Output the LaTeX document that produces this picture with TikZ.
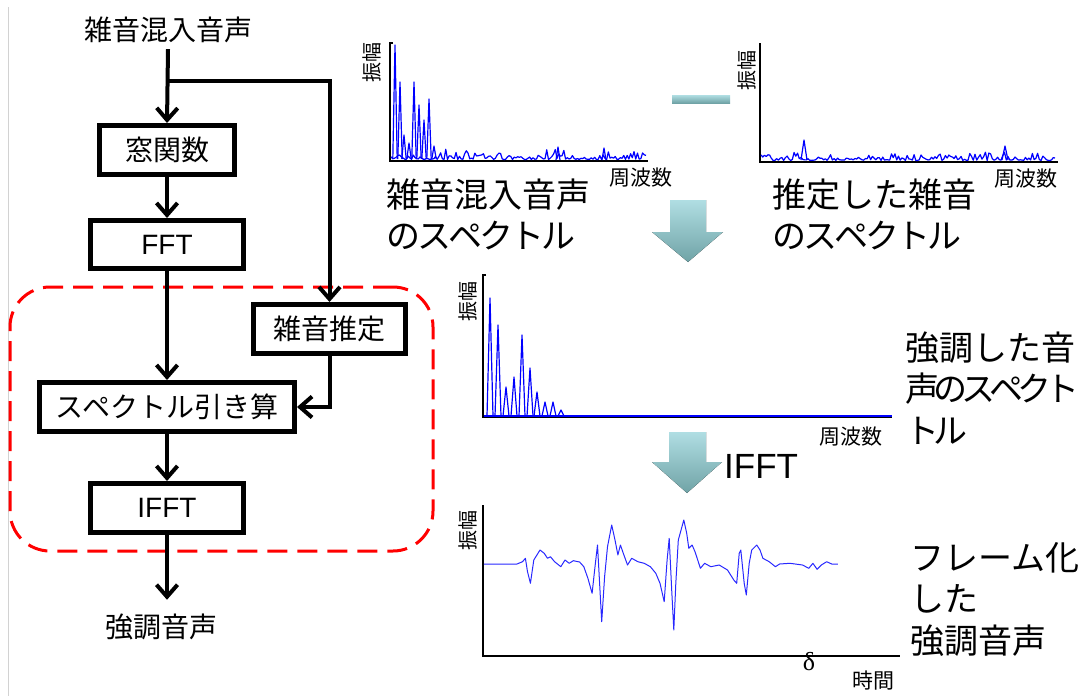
\documentclass[tikz,border=0pt]{standalone}
\usepackage{fontspec}
\setmainfont{Noto Sans CJK JP}
\newfontfamily\latfont{Liberation Sans}
\newfontfamily\serfont{Liberation Serif}
\usetikzlibrary{arrows.meta}
\definecolor{tealA}{RGB}{176,222,227}
\definecolor{tealB}{RGB}{112,163,166}
\definecolor{specblue}{RGB}{0,0,255}
\definecolor{waveblue}{RGB}{40,40,255}
\newcommand\ka{\kern-3pt}
\newcommand\kb{\kern-6pt}
\begin{document}
\begin{tikzpicture}[x=1pt,y=-1pt,
  fbox/.style={draw, line width=5pt, inner sep=0pt, font=\fontsize{28}{32}\selectfont},
  lbox/.style={fbox, font=\latfont\fontsize{28}{32}\selectfont},
  lab/.style={inner sep=0pt, font=\fontsize{28}{32}\selectfont},
  flow/.style={line width=4pt, line join=miter, -{Straight Barb[length=12pt,width=21pt]}},
  grpbox/.style={draw=red, line width=3pt, dash pattern=on 20pt off 10pt, rounded corners=40pt, inner sep=0pt},
  biglab/.style={inner sep=0pt, anchor=west, align=left, font=\fontsize{34}{41.5}\selectfont},
  small/.style={inner sep=0pt, font=\fontsize{20}{22}\selectfont},
  axis/.style={line width=1.2pt, black},
  spec/.style={line width=1.2pt, specblue, line join=round},
  wave/.style={line width=1pt, waveblue, line join=round},
  tealarrow/.style={top color=tealA, bottom color=tealB, draw=none}
]
\useasboundingbox (0,0) rectangle (1086,696);
% left border line
\draw[gray!35, line width=1pt] (8,7) -- (8,696);

% ---------- flowchart ----------
\node[lab, inner sep=6pt] (in) at (168,30) {雑音混入音声};
\node[fbox, minimum width=135pt, minimum height=49pt] (win) at (167,150) {窓関数};
\node[lbox, minimum width=153pt, minimum height=48pt] (fft) at (167,244.5) {FFT};
\node[fbox, minimum width=152pt, minimum height=49pt] (est) at (329.5,329) {雑音推定};
\node[fbox, minimum width=255pt, minimum height=49pt] (sub) at (167,407) {スペクトル引き算};
\node[lbox, minimum width=153pt, minimum height=49pt] (ifft) at (167,508) {IFFT};
\node[lab] (out) at (161,627) {強調音声};
\coordinate (bp) at (168,81);

\node[grpbox, minimum width=423pt, minimum height=264pt] (grp) at (221.5,419) {};

\draw[flow] (in.south) -- (win.north);
\draw[flow] (bp) -| (est.north);
\draw[flow] (win.south) -- (fft.north);
\draw[flow] (fft.south) -- (sub.north);
\draw[flow] (est.south) |- (sub.east);
\draw[flow] (sub.south) -- (ifft.north);
\draw[flow, shorten >=14pt] (ifft.south) -- (ifft.south |- out.north);

% ---------- plot 1: noisy spectrum ----------
\draw[axis] (393,43) -- (390,43) -- (390,161) -- (648,161);
\node[small, rotate=90] (amp1) at (372,62) {振幅};
\node[small, font=\fontsize{21}{22}\selectfont] (frq1) at (641,178) {周波数};
\pgfmathsetseed{11}
\draw[spec] plot[domain=391:646, samples=150] (\x,{159.5-11*rnd*rnd});
\foreach \p/\h in {395/45, 400/82, 404/135, 409/143, 414/82, 419/105, 424/120, 429/99, 434/146} {
  \draw[spec] (\p-2.2,159) -- (\p,\h) -- (\p+2.2,159);
}
\draw[spec] (556,160) -- (558,147) -- (560,160);
\draw[spec] (602,160) -- (604,148) -- (606,160);
\node[biglab] (lab1) at (386,214.5) {雑音混入音声\\の\ka ス\ka ペ\ka ク\ka ト\ka ル};

% minus sign
\fill[tealarrow] (672,95) rectangle (730,103);

% ---------- plot 2: estimated noise ----------
\draw[axis] (760,43) -- (760,162) -- (1058,162);
\node[small, rotate=90] (amp2) at (747,70) {振幅};
\node[small, font=\fontsize{21}{22}\selectfont] (frq2) at (1026,179) {周波数};
\pgfmathsetseed{23}
\draw[spec] plot[domain=761:1055, samples=170] (\x,{160.5-10*rnd*rnd});
\draw[spec] (801,160) -- (804,140) -- (807,160);
\draw[spec] (1002,160) -- (1005,146) -- (1008,160);
\node[biglab] (lab2) at (772,214.5) {推定した雑音\\の\ka ス\ka ペ\ka ク\ka ト\ka ル};

% down arrow 1
\fill[tealarrow] (670,200) -- (706,200) -- (706,232) -- (723,232) -- (688,262) -- (652,232) -- (670,232) -- cycle;

% ---------- plot 3: enhanced spectrum ----------
\draw[axis] (486,275) -- (483,275) -- (483,417) -- (892,417);
\draw[spec] (484,416) -- (892,416);
\foreach \p/\h in {490/298, 498/325, 506/387, 514/377, 522/335, 530/368, 537/392, 545/402, 553/402, 561/410} {
  \draw[spec] (\p-3,416) -- (\p,\h) -- (\p+3,416);
}
\node[small, rotate=90] (amp3) at (468,301) {振幅};
\node[small, font=\fontsize{21}{22}\selectfont] (frq3) at (851,437) {周波数};
\node[biglab] (lab3) at (905,388) {強調した音\\声\kb の\kb ス\kb ペ\kb ク\kb ト\\ト\kb ル};

% down arrow 2
\fill[tealarrow] (669,432) -- (706,432) -- (706,462) -- (722,462) -- (687,493) -- (652,462) -- (669,462) -- cycle;
\node[inner sep=0pt, anchor=west, font=\latfont\fontsize{35}{38}\selectfont] (ifftl) at (724,466) {IFFT};

% ---------- plot 4: framed enhanced speech ----------
\draw[axis] (483,505) -- (483,656) -- (900,656);
\node[small, rotate=90] (amp4) at (468,530) {振幅};
\node[inner sep=0pt, font=\serfont\fontsize{26}{28}\selectfont] (dl) at (809,662) {δ};
\node[small, font=\fontsize{21}{22}\selectfont] (tm) at (873,681) {時間};
\draw[wave] plot coordinates {
(483.8,564) (517,564) (522.5,561.7) (525.4,558.3) (527.5,571.7) (530.4,583.3) (533.8,560)
(540,550) (544.2,553.3) (547.5,558.3) (550.4,556.7) (554.6,561.7) (560.8,566.7) (565,560)
(569.2,563.3) (573.3,560.7) (579.6,562) (583.8,566.7) (587.9,578.3) (592.1,593.3) (595,566.7)
(597.5,545) (599.6,583.3) (601.7,621.7) (604.6,576.7) (607.5,546.7) (611.7,525) (615,540)
(617.9,555) (620.4,545) (623.3,553.3) (627.5,565) (631.7,558.3) (637.9,561.7) (644.2,563.3)
(650.4,566.7) (655.8,573.3) (660,583.3) (664.2,601.7) (667.1,560) (669.2,538.3) (671.7,590)
(673.8,630) (675.8,583.3) (678.3,540) (683.8,520) (686.7,533.3) (688.8,548.3) (692.1,545)
(695,551.7) (700.4,568.3) (704.6,563.3) (710.8,566.7) (719.2,565) (727.5,570) (733.8,580)
(736.7,583.3) (739.2,553.3) (740.8,550) (744.2,583.3) (746.3,595) (749.2,563.3) (751.7,550)
(756.7,545) (760,550) (762.9,558.3) (769.2,561.7) (775.4,566.7) (779.6,564) (790,563.3)
(802.5,565) (808.8,568.3) (812.9,563.3) (817.1,569.3) (821.3,565) (826.7,561.7) (831.7,564)
(837.9,564)};
\node[biglab] (lab4) at (910,599) {フレーム化\\した\\強調音声};
\end{tikzpicture}
\end{document}
